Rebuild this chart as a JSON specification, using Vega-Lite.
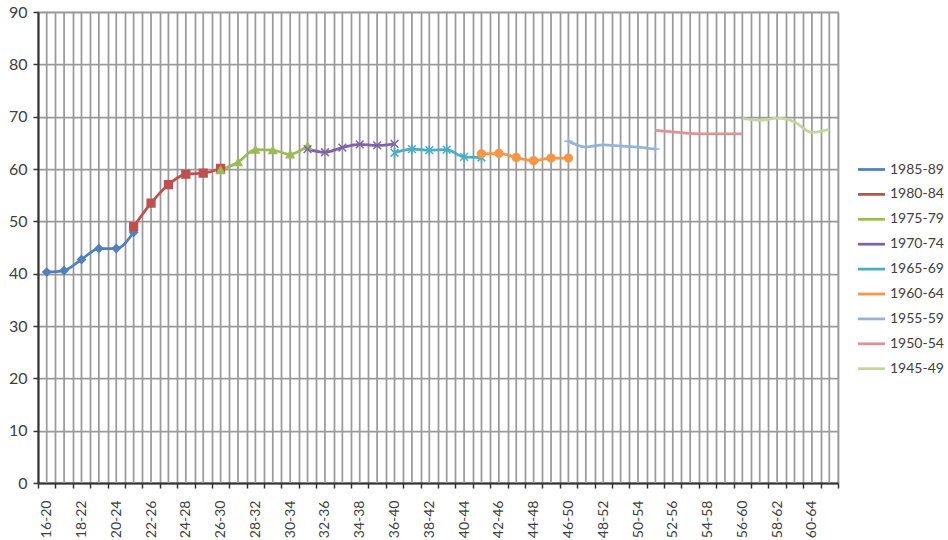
{
  "$schema": "https://vega.github.io/schema/vega-lite/v6.json",
  "width": 800,
  "height": 471,
  "autosize": {"type": "none"},
  "padding": {"left": 38, "top": 12, "right": 110, "bottom": 57},
  "background": "white",
  "config": {
    "view": {"stroke": "#c4c4c4", "strokeWidth": 1.5},
    "font": "Lato",
    "legend": {
      "orient": "none",
      "legendX": 822,
      "legendY": 146,
      "padding": 0,
      "rowPadding": 5.9,
      "symbolSize": 400,
      "symbolStrokeWidth": 2.75,
      "symbolOpacity": 1,
      "labelFont": "Lato",
      "labelFontSize": 14,
      "labelColor": "#404040",
      "labelOffset": 7,
      "title": null
    }
  },
  "datasets": {
    "cats": [
      {"c": "16-20"}, {"c": "17-21"}, {"c": "18-22"}, {"c": "19-23"}, {"c": "20-24"}, {"c": "21-25"},
      {"c": "22-26"}, {"c": "23-27"}, {"c": "24-28"}, {"c": "25-29"}, {"c": "26-30"}, {"c": "27-31"},
      {"c": "28-32"}, {"c": "29-33"}, {"c": "30-34"}, {"c": "31-35"}, {"c": "32-36"}, {"c": "33-37"},
      {"c": "34-38"}, {"c": "35-39"}, {"c": "36-40"}, {"c": "37-41"}, {"c": "38-42"}, {"c": "39-43"},
      {"c": "40-44"}, {"c": "41-45"}, {"c": "42-46"}, {"c": "43-47"}, {"c": "44-48"}, {"c": "45-49"},
      {"c": "46-50"}, {"c": "47-51"}, {"c": "48-52"}, {"c": "49-53"}, {"c": "50-54"}, {"c": "51-55"},
      {"c": "52-56"}, {"c": "53-57"}, {"c": "54-58"}, {"c": "55-59"}, {"c": "56-60"}, {"c": "57-61"},
      {"c": "58-62"}, {"c": "59-63"}, {"c": "60-64"}, {"c": "61-65"}
    ],
    "main": [
      {"s": "1985-89", "c": "16-20", "v": 40.3},
      {"s": "1985-89", "c": "17-21", "v": 40.6},
      {"s": "1985-89", "c": "18-22", "v": 42.7},
      {"s": "1985-89", "c": "19-23", "v": 44.8},
      {"s": "1985-89", "c": "20-24", "v": 44.8},
      {"s": "1985-89", "c": "21-25", "v": 47.9},
      {"s": "1980-84", "c": "21-25", "v": 49.0},
      {"s": "1980-84", "c": "22-26", "v": 53.5},
      {"s": "1980-84", "c": "23-27", "v": 57.0},
      {"s": "1980-84", "c": "24-28", "v": 59.0},
      {"s": "1980-84", "c": "25-29", "v": 59.2},
      {"s": "1980-84", "c": "26-30", "v": 60.1},
      {"s": "1975-79", "c": "26-30", "v": 59.8},
      {"s": "1975-79", "c": "27-31", "v": 61.3},
      {"s": "1975-79", "c": "28-32", "v": 63.7},
      {"s": "1975-79", "c": "29-33", "v": 63.6},
      {"s": "1975-79", "c": "30-34", "v": 62.8},
      {"s": "1975-79", "c": "31-35", "v": 64.4},
      {"s": "1970-74", "c": "31-35", "v": 63.8},
      {"s": "1970-74", "c": "32-36", "v": 63.2},
      {"s": "1970-74", "c": "33-37", "v": 64.1},
      {"s": "1970-74", "c": "34-38", "v": 64.7},
      {"s": "1970-74", "c": "35-39", "v": 64.5},
      {"s": "1970-74", "c": "36-40", "v": 64.8},
      {"s": "1965-69", "c": "36-40", "v": 63.1},
      {"s": "1965-69", "c": "37-41", "v": 63.8},
      {"s": "1965-69", "c": "38-42", "v": 63.6},
      {"s": "1965-69", "c": "39-43", "v": 63.7},
      {"s": "1965-69", "c": "40-44", "v": 62.3},
      {"s": "1965-69", "c": "41-45", "v": 62.2},
      {"s": "1960-64", "c": "41-45", "v": 62.9},
      {"s": "1960-64", "c": "42-46", "v": 63.0},
      {"s": "1960-64", "c": "43-47", "v": 62.2},
      {"s": "1960-64", "c": "44-48", "v": 61.6},
      {"s": "1960-64", "c": "45-49", "v": 62.1},
      {"s": "1960-64", "c": "46-50", "v": 62.1},
      {"s": "1955-59", "c": "46-50", "v": 65.3},
      {"s": "1955-59", "c": "47-51", "v": 64.2},
      {"s": "1955-59", "c": "48-52", "v": 64.6},
      {"s": "1955-59", "c": "49-53", "v": 64.4},
      {"s": "1955-59", "c": "50-54", "v": 64.2},
      {"s": "1955-59", "c": "51-55", "v": 63.8},
      {"s": "1950-54", "c": "51-55", "v": 67.4},
      {"s": "1950-54", "c": "52-56", "v": 67.1},
      {"s": "1950-54", "c": "53-57", "v": 66.8},
      {"s": "1950-54", "c": "54-58", "v": 66.7},
      {"s": "1950-54", "c": "55-59", "v": 66.7},
      {"s": "1950-54", "c": "56-60", "v": 66.7},
      {"s": "1945-49", "c": "56-60", "v": 69.7},
      {"s": "1945-49", "c": "57-61", "v": 69.3},
      {"s": "1945-49", "c": "58-62", "v": 69.7},
      {"s": "1945-49", "c": "59-63", "v": 69.0},
      {"s": "1945-49", "c": "60-64", "v": 67.0},
      {"s": "1945-49", "c": "61-65", "v": 67.6}
    ]
  },
  "encoding": {
    "x": {
      "field": "c",
      "type": "nominal",
      "scale": {"type": "band", "paddingInner": 0, "paddingOuter": 0},
      "axis": {
        "title": null,
        "tickBand": "extent",
        "labelAngle": -90,
        "labelAlign": "right",
        "labelBaseline": "middle",
        "labelExpr": "parseInt(datum.value) % 2 == 0 ? datum.label : ''",
        "labelOverlap": false,
        "labelPadding": 12,
        "labelFont": "Lato",
        "labelFontSize": 14,
        "labelColor": "#404040",
        "tickSize": 5,
        "tickColor": "#333333",
        "tickWidth": 1.5,
        "domainColor": "#333333",
        "domainWidth": 2,
        "grid": true,
        "gridColor": "#9a9a9a",
        "gridWidth": 1.75
      }
    },
    "y": {
      "field": "v",
      "type": "quantitative",
      "scale": {"domain": [0, 90], "nice": false},
      "axis": {
        "title": null,
        "values": [0, 10, 20, 30, 40, 50, 60, 70, 80, 90],
        "labelFont": "Lato",
        "labelFontSize": 16,
        "labelColor": "#404040",
        "labelPadding": 6,
        "tickSize": 5,
        "tickColor": "#333333",
        "tickWidth": 1.5,
        "domainColor": "#333333",
        "domainWidth": 2,
        "gridColor": "#9a9a9a",
        "gridWidth": 1.75
      }
    }
  },
  "layer": [
    {
      "data": {"name": "cats"},
      "mark": {"type": "rule", "color": "#9a9a9a", "strokeWidth": 1.75},
      "encoding": {"y": null}
    },
    {
      "data": {"name": "main"},
      "mark": {"type": "line", "strokeWidth": 2.75, "interpolate": "monotone"},
      "encoding": {
        "stroke": {
          "field": "s",
          "type": "nominal",
          "title": null,
          "scale": {
            "domain": ["1985-89", "1980-84", "1975-79", "1970-74", "1965-69", "1960-64", "1955-59", "1950-54", "1945-49"],
            "range": ["#4F81BD", "#C0504D", "#9BBB59", "#8064A2", "#4BACC6", "#F79646", "#95B3D7", "#D99694", "#C3D69B"]
          },
          "legend": {"symbolType": "M-1.35,0L1.35,0", "title": null}
        }
      }
    },
    {
      "data": {"name": "main"},
      "transform": [{"filter": "datum.s != '1950-54' && datum.s != '1945-49'"}],
      "mark": {"type": "point", "filled": true, "opacity": 1, "size": 60, "strokeWidth": 1.5},
      "encoding": {
        "fill": {
          "field": "s",
          "type": "nominal",
          "legend": null,
          "scale": {
            "domain": ["1985-89", "1980-84", "1975-79", "1970-74", "1965-69", "1960-64", "1955-59"],
            "range": ["#4F81BD", "#C0504D", "#9BBB59", "#8064A2", "#4BACC6", "#F79646", "#95B3D7"]
          }
        },
        "stroke": {
          "field": "s",
          "type": "nominal",
          "title": null,
          "legend": {"symbolType": "M-1.35,0L1.35,0", "title": null}
        },
        "shape": {
          "field": "s",
          "type": "nominal",
          "legend": null,
          "scale": {
            "domain": ["1985-89", "1980-84", "1975-79", "1970-74", "1965-69", "1960-64", "1955-59"],
            "range": ["diamond", "square", "triangle-up", "M-1,-1L1,1M-1,1L1,-1", "M-1,-1L1,1M-1,1L1,-1M0,-1.3L0,1.3", "circle", "M-1.1,0L1.1,0M0,-1.1L0,1.1"]
          }
        }
      }
    }
  ]
}
